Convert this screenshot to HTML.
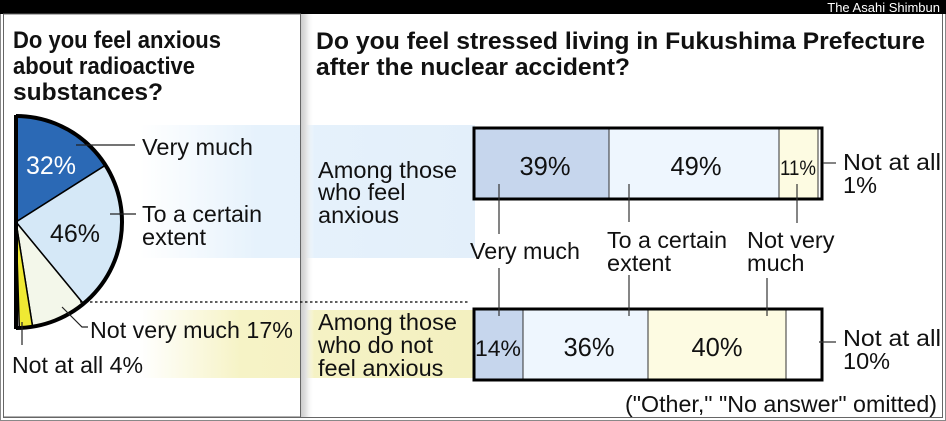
<!DOCTYPE html>
<html><head><meta charset="utf-8"><style>
html,body{margin:0;padding:0;background:#fff}
svg{display:block}
text{font-family:"Liberation Sans",Arial,sans-serif;fill:#111}
</style></head><body>
<svg width="946" height="421" viewBox="0 0 946 421" xmlns="http://www.w3.org/2000/svg">
<defs>
<linearGradient id="bb" x1="0" x2="1" y1="0" y2="0">
<stop offset="0" stop-color="#e6f2fc" stop-opacity="0"/><stop offset="0.35" stop-color="#e6f2fc"/><stop offset="1" stop-color="#e3effa"/></linearGradient>
<linearGradient id="yb" x1="0" x2="1" y1="0" y2="0">
<stop offset="0" stop-color="#f6f3c6" stop-opacity="0"/><stop offset="0.3" stop-color="#f6f3c6"/><stop offset="1" stop-color="#f3f0c0"/></linearGradient>
<linearGradient id="sh" x1="0" x2="1" y1="0" y2="0">
<stop offset="0" stop-color="#c8c8c8"/><stop offset="0.4" stop-color="#e0e0e0"/><stop offset="1" stop-color="#fff" stop-opacity="0"/></linearGradient>
</defs>
<rect x="0" y="0" width="946" height="421" fill="#fff"/>
<rect x="0.5" y="0.5" width="945" height="420" fill="none" stroke="#888"/>
<rect x="0" y="0" width="946" height="14" fill="#000"/>
<text x="940" y="12" font-size="13" text-anchor="end" style="fill:#fff">The Asahi Shimbun</text>
<rect x="140" y="125" width="335" height="133" fill="url(#bb)"/>
<rect x="140" y="310" width="335" height="68" fill="url(#yb)"/>
<rect x="300" y="14" width="14" height="404" fill="url(#sh)"/>
<rect x="3.5" y="14" width="297" height="403" fill="none" stroke="#666"/>
<line x1="3" y1="417.5" x2="943" y2="417.5" stroke="#666"/>
<line x1="942.5" y1="14" x2="942.5" y2="418" stroke="#666"/>
<g font-weight="bold" font-size="24">
<text x="13" y="48" textLength="208" lengthAdjust="spacingAndGlyphs">Do you feel anxious</text>
<text x="13" y="74" textLength="182" lengthAdjust="spacingAndGlyphs">about radioactive</text>
<text x="13" y="100" textLength="150" lengthAdjust="spacingAndGlyphs">substances?</text>
<text x="316" y="49" textLength="609" lengthAdjust="spacingAndGlyphs">Do you feel stressed living in Fukushima Prefecture</text>
<text x="316" y="75" textLength="314" lengthAdjust="spacingAndGlyphs">after the nuclear accident?</text>
</g>
<g stroke="#000" stroke-width="1.5">
<path d="M16,222 L16,116 A106,106 0 0 1 105.5,165.2 Z" fill="#2b69b5"/>
<path d="M16,222 L105.5,165.2 A106,106 0 0 1 83.5,303.9 Z" fill="#d5e8f7"/>
<path d="M16,222 L83.5,303.9 A106,106 0 0 1 32.6,326.7 Z" fill="#f3f7ea"/>
<path d="M16,222 L32.6,326.7 A106,106 0 0 1 19.3,328 Z" fill="#efe933"/>
</g>
<path d="M16,116 A106,106 0 0 1 16,328" fill="none" stroke="#000" stroke-width="4"/>
<line x1="16" y1="115" x2="16" y2="329" stroke="#000" stroke-width="4"/>
<text x="26" y="174" font-size="25" style="fill:#fff">32%</text>
<text x="50" y="242" font-size="25">46%</text>
<g stroke="#222" stroke-width="1.2" fill="none">
<line x1="76" y1="145" x2="135" y2="145"/>
<line x1="110" y1="214" x2="136" y2="214"/>
<polyline points="62,307 82,327 88,327"/>
<line x1="22" y1="322" x2="22" y2="345"/>
</g>
<g font-size="23.5">
<text x="142" y="155" textLength="111" lengthAdjust="spacingAndGlyphs">Very much</text>
<text x="142" y="222" textLength="120" lengthAdjust="spacingAndGlyphs">To a certain</text>
<text x="142" y="245">extent</text>
<text x="90" y="338" textLength="203" lengthAdjust="spacingAndGlyphs">Not very much 17%</text>
<text x="12" y="373" textLength="131" lengthAdjust="spacingAndGlyphs">Not at all 4%</text>
</g>
<line x1="80" y1="302" x2="468" y2="302" stroke="#000" stroke-width="1.3" stroke-dasharray="2.5,2.5"/>
<g font-size="23.5">
<text x="318" y="178" textLength="139" lengthAdjust="spacingAndGlyphs">Among those</text>
<text x="318" y="200">who feel</text>
<text x="318" y="223">anxious</text>
<text x="318" y="330" textLength="139" lengthAdjust="spacingAndGlyphs">Among those</text>
<text x="318" y="353">who do not</text>
<text x="318" y="376">feel anxious</text>
</g>
<g stroke="#333" stroke-width="1">
<rect x="474" y="128" width="135" height="71" fill="#c6d6ed"/>
<rect x="609" y="128" width="170" height="71" fill="#eef6fe"/>
<rect x="779" y="128" width="39" height="71" fill="#fdfbe2"/>
<rect x="818" y="128" width="4" height="71" fill="#fff"/>
<rect x="474" y="309" width="49" height="71" fill="#c6d6ed"/>
<rect x="523" y="309" width="125" height="71" fill="#eef6fe"/>
<rect x="648" y="309" width="138" height="71" fill="#fdfbe2"/>
<rect x="786" y="309" width="36" height="71" fill="#fff"/>
</g>
<rect x="474" y="128" width="348" height="71" fill="none" stroke="#000" stroke-width="3"/>
<rect x="474" y="309" width="348" height="71" fill="none" stroke="#000" stroke-width="3"/>
<g font-size="25.5" text-anchor="middle">
<text x="545" y="175">39%</text>
<text x="696" y="175">49%</text>
<text x="798" y="175" font-size="21" textLength="36" lengthAdjust="spacingAndGlyphs">11%</text>
<text x="498" y="356" font-size="22" textLength="46" lengthAdjust="spacingAndGlyphs">14%</text>
<text x="589" y="356">36%</text>
<text x="717" y="356">40%</text>
</g>
<g stroke="#333" stroke-width="1.2">
<line x1="499" y1="184" x2="499" y2="234"/>
<line x1="499" y1="268" x2="499" y2="316"/>
<line x1="629" y1="184" x2="629" y2="222"/>
<line x1="629" y1="275" x2="629" y2="316"/>
<line x1="797" y1="184" x2="797" y2="223"/>
<line x1="767" y1="278" x2="767" y2="316"/>
<line x1="823" y1="163" x2="836" y2="163"/>
<line x1="819" y1="342" x2="836" y2="342"/>
</g>
<g font-size="23.5">
<text x="470" y="259" textLength="110" lengthAdjust="spacingAndGlyphs">Very much</text>
<text x="607" y="248" textLength="120" lengthAdjust="spacingAndGlyphs">To a certain</text>
<text x="607" y="271">extent</text>
<text x="747" y="248">Not very</text>
<text x="747" y="271">much</text>
<text x="843" y="170" textLength="98" lengthAdjust="spacingAndGlyphs">Not at all</text>
<text x="843" y="193">1%</text>
<text x="843" y="346" textLength="98" lengthAdjust="spacingAndGlyphs">Not at all</text>
<text x="843" y="369">10%</text>
<text x="937" y="412" text-anchor="end" textLength="312" lengthAdjust="spacingAndGlyphs">("Other," "No answer" omitted)</text>
</g>
</svg>
</body></html>
